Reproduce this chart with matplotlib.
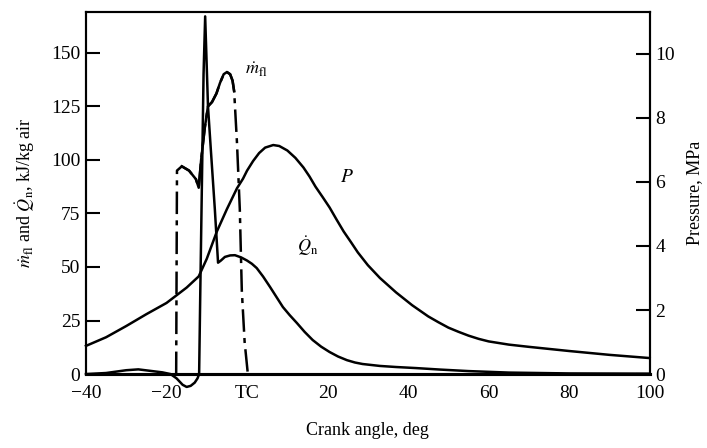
import numpy as np
import matplotlib
matplotlib.use("Agg")
import matplotlib.pyplot as plt

# Data
# pressure, MPa (right axis)
p_angle = [-40, -35, -30, -25, -20, -15, -12, -10, -7.5, -5, -2.5, -1, 0, 1.5,
           3, 4.5, 6.5, 8, 10, 12, 14, 15.5, 17, 18.8, 20.5, 22.2, 24, 25.8,
           27.5, 30, 33, 37, 41, 45, 47.5, 50, 52.5, 55, 57.5, 60, 65, 70,
           80, 90, 100]
p_mpa = [0.88, 1.15, 1.5, 1.87, 2.22, 2.7, 3.05, 3.6, 4.45, 5.15, 5.8, 6.1,
         6.35, 6.65, 6.9, 7.07, 7.15, 7.12, 6.98, 6.75, 6.45, 6.17, 5.85,
         5.52, 5.2, 4.83, 4.45, 4.12, 3.8, 3.4, 3.0, 2.55, 2.15, 1.8, 1.62,
         1.45, 1.32, 1.2, 1.1, 1.02, 0.92, 0.85, 0.72, 0.6, 0.5]

# heat release rate Q_n, kJ/kg air (left axis)
q_angle = [-40, -35, -30, -27, -24, -21, -19, -17.5, -16, -15, -14, -13, -12.3,
           -11.9, -11.6, -11.2, -10.8, -10.4, -9.7, -9.0, -8.0, -7.2, -6.5,
           -5.5, -4.2, -3.0, -1.5, 0, 1.2, 2.4, 4, 5.7, 7.3, 8.9, 10.6, 12.4,
           14.3, 16.3, 18.4, 20.5, 22.6, 24.8, 26.8, 28.7, 33, 37, 42, 48,
           55, 65, 80, 100]
q_rate = [0, 0.5, 1.8, 2.2, 1.5, 0.8, 0, -2, -5, -6, -5.5, -4, -2,
          0, 40, 90, 140, 167, 125, 105, 77, 52, 53,
          54.7, 55.4, 55.5, 54.5, 53, 51.5, 49.5, 45.5, 40.7, 36, 31.3, 27.5,
          23.8, 19.7, 15.9, 12.8, 10.3, 8.2, 6.5, 5.4, 4.7, 3.8, 3.3, 2.8, 2.1,
          1.4, 0.7, 0.3, 0.2]

# fuel injection rate m_fl (left axis)
m_angle = [-17.6, -17.4, -16.2, -14.4, -12.7, -12.0, -11.4, -10.5, -9.7, -8.7,
           -7.6, -6.7, -5.8, -5.0, -4.2, -3.6, -3.2, -2.5, -1.8, -1.3, -0.6, 0.2]
m_rate = [0, 95, 97, 95, 91, 87, 100, 115, 125, 127,
          131, 136, 140, 141, 140, 137, 132, 108, 77, 39, 15, 0]

x_ticks = [-40, -20, 0, 20, 40, 60, 80, 100]
x_labels = ["\u221240", "\u221220", "TC", "20", "40", "60", "80", "100"]
left_ticks = [0, 25, 50, 75, 100, 125, 150]
right_ticks = [0, 2, 4, 6, 8, 10]

plt.rcParams["font.family"] = "Liberation Serif"
plt.rcParams["mathtext.fontset"] = "stix"

fig = plt.figure(figsize=(7.07, 4.48), dpi=100)
ax = fig.add_axes([0.1216, 0.165, 0.7974, 0.808])
ax2 = ax.twinx()

lw = 1.8
ax2.plot(p_angle, p_mpa, color="black", lw=lw, clip_on=False)
ax.plot(q_angle, q_rate, color="black", lw=lw, clip_on=False)

m_angle_arr = np.array(m_angle)
m_rate_arr = np.array(m_rate)
ax.plot(m_angle_arr, m_rate_arr, color="black", lw=lw,
        dashes=(9, 2.5, 2, 2.5), clip_on=False)
top = (m_angle_arr > -17.3) & (m_angle_arr < -3.0)
ax.plot(m_angle_arr[top], m_rate_arr[top], color="black", lw=lw, clip_on=False)

ax.set_xlim(-40, 100)
ax.set_ylim(0, 169)
ax2.set_ylim(0, 11.3)

ax.set_xticks(x_ticks)
ax.set_xticklabels(x_labels)
ax.set_yticks(left_ticks)
ax2.set_yticks(right_ticks)

ax.tick_params(axis="x", length=0, pad=8, labelsize=14)
ax.tick_params(axis="y", direction="in", length=10, width=1.5, pad=4, labelsize=14)
ax2.tick_params(axis="y", direction="in", length=10, width=1.5, pad=4, labelsize=14)

for a in (ax, ax2):
    for s in a.spines.values():
        s.set_linewidth(1.5)
    a.spines["bottom"].set_linewidth(2.2)

ax.set_xlabel("Crank angle, deg", fontsize=13, labelpad=14)
ax.set_ylabel(r"$\dot{m}_{\rm fl}$ and $\dot{Q}_{\rm n}$, kJ/kg air", fontsize=13, labelpad=10)
ax2.set_ylabel("Pressure, MPa", fontsize=13, labelpad=8)

ax.text(-0.5, 142, r"$\dot{m}_{\rm fl}$", fontsize=13, ha="left", va="center")
ax.text(23, 92, r"$P$", fontsize=14, ha="left", va="center")
ax.text(12.5, 60, r"$\dot{Q}_{\rm n}$", fontsize=13, ha="left", va="center")

fig.savefig("out.png", dpi=100)
